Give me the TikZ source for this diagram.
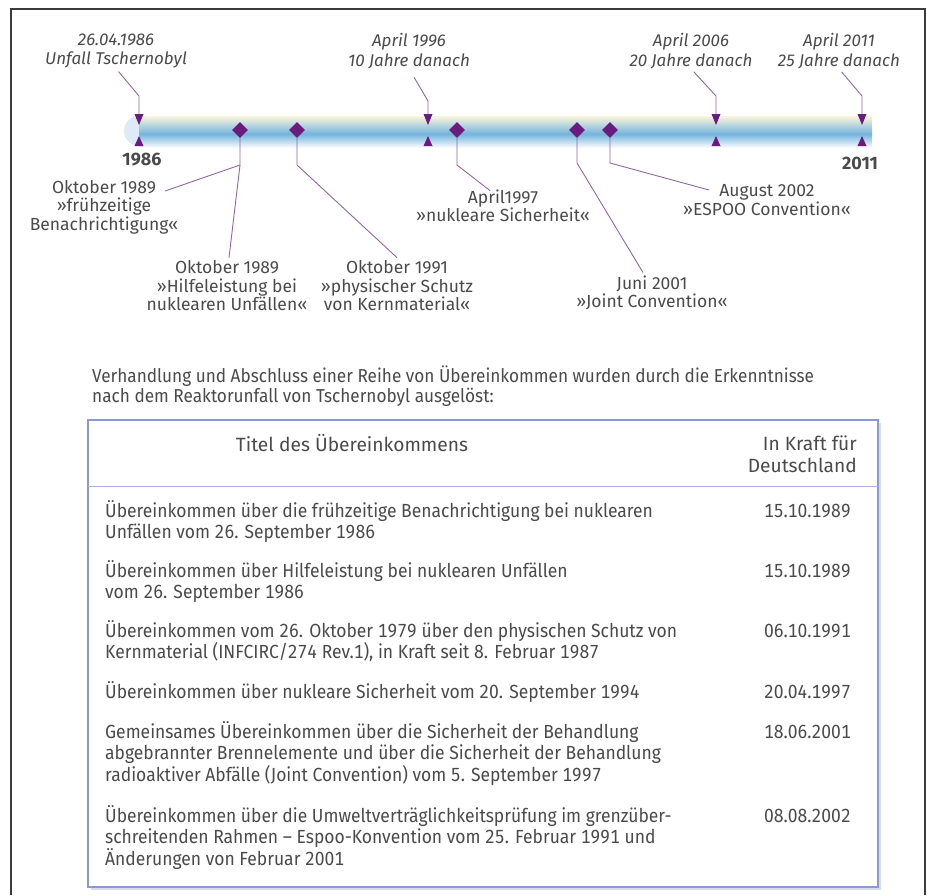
\documentclass[tikz,border=0pt]{standalone}
\usepackage{fontspec}
\setmainfont{Fira Sans}
\newfontfamily\condfont[FakeStretch=0.92,Numbers=Monospaced]{Fira Sans}
\usetikzlibrary{shapes.geometric}
\definecolor{lila}{HTML}{6A1B7E}
\definecolor{lilaline}{HTML}{9266A2}
\definecolor{txtgray}{HTML}{4A4A4A}
\definecolor{barblue}{HTML}{74B4DE}
\definecolor{barcream}{HTML}{FCF6DC}
\definecolor{capblue}{HTML}{DCEBF5}
\definecolor{tabblue}{HTML}{8C98D0}
\definecolor{framegray}{HTML}{3A3A3A}

\begin{document}
\begin{tikzpicture}[x=1pt,y=-1pt,
	dmd/.style={shape=diamond, fill=lila, inner sep=0, minimum size=16pt},
	conn/.style={draw=lilaline, line width=0.9pt},
	toplbl/.style={font=\fontsize{17}{19.5}\selectfont\itshape, text=txtgray, align=center, inner sep=0},
	botlbl/.style={font=\fontsize{17.5}{18.5}\selectfont, text=txtgray, align=center, inner sep=0},
	yearlbl/.style={font=\fontsize{18}{20}\selectfont\bfseries, text=txtgray, inner sep=0},
	headlbl/.style={font=\fontsize{19.2}{21.5}\selectfont, text=txtgray, inner sep=0},
	tabtxt/.style={font=\condfont\fontsize{19}{21.5}\selectfont, text=txtgray, align=left, inner sep=0, anchor=north west},
	datelbl/.style={font=\condfont\fontsize{19}{21.5}\selectfont, text=txtgray, inner sep=0, anchor=base east}
	]
	\useasboundingbox (0,0) rectangle (928,895); %page
	\draw[framegray, line width=1.3pt] (11,895) -- (11,9) -- (925,9) -- (925,895); %outer frame

	%timeline bar-------------------------------------------
	\fill[capblue] (139,131) circle (15pt); %left cap
	\shade[top color=barcream, bottom color=barblue] (139,116) rectangle (872,134); %bar upper half
	\shade[top color=barblue, bottom color=white] (139,134) rectangle (872,148); %bar lower half

	%year marks
	\foreach \x/\n in {139/86,428/96,716/06,862/11}{
		\coordinate (t\n) at (\x,114); %arrow end
		\fill[lila] (\x-4.5,114) -- (\x+4.5,114) -- (\x,125) -- cycle; %down mark
		\fill[lila] (\x-4.5,146) -- (\x+4.5,146) -- (\x,136) -- cycle; %up mark
	}
	\node[yearlbl] (yr86) at (142,160) {1986}; %start year
	\node[yearlbl] (yr11) at (860,163) {2011}; %end year

	%top labels
	\node[toplbl] (l86) at (116,51) {26.04.1986\\Unfall Tschernobyl}; %accident
	\node[toplbl] (l96) at (409,51) {April 1996\\10 Jahre danach}; %10 years
	\node[toplbl] (l06) at (691,51) {April 2006\\20 Jahre danach}; %20 years
	\node[toplbl] (l11) at (839,51) {April 2011\\25 Jahre danach}; %25 years
	\coordinate (k86) at (139,96); %bend
	\coordinate (k96) at (428,101); %bend
	\coordinate (k06) at (716,96); %bend
	\coordinate (k11) at (862,96); %bend
	\draw[conn, shorten <=4pt] (l86.south) -- (k86) -- (t86); %arrow 1986
	\draw[conn, shorten <=10pt] (l96.south) -- (k96) -- (t96); %arrow 1996
	\draw[conn, shorten <=4pt] (l06.south) -- (k06) -- (t06); %arrow 2006
	\draw[conn, shorten <=4pt] (l11.south) -- (k11) -- (t11); %arrow 2011

	%conventions--------------------------------------------
	\node[dmd] (dm89) at (240,130) {}; %Oct 1989
	\node[dmd] (dm91) at (297,130) {}; %Oct 1991
	\node[dmd] (dm97) at (457,130) {}; %Apr 1997
	\node[dmd] (dm01) at (577,130) {}; %Jun 2001
	\node[dmd] (dm02) at (610,130) {}; %Aug 2002

	\node[botlbl] (lb89a) at (104,207) {Oktober 1989\\»frühzeitige\\Benachrichtigung«}; %early notification
	\node[botlbl] (lb89b) at (227,286) {Oktober 1989\\»Hilfeleistung bei\\nuklearen Unfällen«}; %assistance
	\node[botlbl] (lb91) at (397,286) {Oktober 1991\\»physischer Schutz\\von Kernmaterial«}; %physical protection
	\node[botlbl] (lb97) at (503,206) {April1997\\»nukleare Sicherheit«}; %nuclear safety
	\node[botlbl] (lb01) at (652,293) {Juni 2001\\»Joint Convention«}; %joint convention
	\node[botlbl] (lb02) at (767,200) {August 2002\\»ESPOO Convention«}; %espoo

	\coordinate (k89) at (240,165); %bend
	\coordinate (k91) at (297,165); %bend
	\coordinate (k97) at (457,165); %bend
	\coordinate (k01) at (577,163); %bend
	\coordinate (k02) at (610,163); %bend
	\coordinate (e89) at (165,191); %end at label
	\coordinate (e02) at (709,190); %end at label
	\draw[conn] (dm89.south) -- (k89) -- (e89); %to early notification
	\draw[conn] (k89) -- ([xshift=2pt,yshift=3pt]lb89b.north); %to assistance
	\draw[conn] (dm91.south) -- (k91) -- ([yshift=3pt]lb91.north); %to physical protection
	\draw[conn] (dm97.south) -- (k97) -- ([xshift=-13pt,yshift=-1pt]lb97.north); %to nuclear safety
	\draw[conn] (dm01.south) -- (k01) -- ([xshift=-9pt,yshift=3pt]lb01.north); %to joint convention
	\draw[conn] (dm02.south) -- (k02) -- (e02); %to espoo

	%table--------------------------------------------------
	\node[tabtxt, anchor=west, font=\condfont\fontsize{18.7}{19.5}\selectfont] (intro) at (92,386) {Verhandlung und Abschluss einer Reihe von Übereinkommen wurden durch die Erkenntnisse\\nach dem Reaktorunfall von Tschernobyl ausgelöst:}; %intro text

	\draw[tabblue!35, line width=2pt] (91,889) -- (880,889) -- (880,423); %shadow
	\draw[tabblue, line width=1.2pt] (88,420) rectangle (878,887); %table frame
	\draw[tabblue!75, line width=0.8pt] (88,486) -- (878,486); %header rule
	\node[headlbl] (hd1) at (352,443) {Titel des Übereinkommens}; %header left
	\node[headlbl, align=right, anchor=east] (hd2) at (857,454) {In Kraft für\\Deutschland}; %header right

	\node[tabtxt] (r1) at (105,500) {Übereinkommen über die frühzeitige Benachrichtigung bei nuklearen\\Unfällen vom 26. September 1986}; %row 1
	\node[tabtxt] (r2) at (105,560) {Übereinkommen über Hilfeleistung bei nuklearen Unfällen\\vom 26. September 1986}; %row 2
	\node[tabtxt] (r3) at (105,620) {Übereinkommen vom 26. Oktober 1979 über den physischen Schutz von\\Kernmaterial (INFCIRC/274 Rev.1), in Kraft seit 8. Februar 1987}; %row 3
	\node[tabtxt] (r4) at (105,681) {Übereinkommen über nukleare Sicherheit vom 20. September 1994}; %row 4
	\node[tabtxt] (r5) at (105,721) {Gemeinsames Übereinkommen über die Sicherheit der Behandlung\\abgebrannter Brennelemente und über die Sicherheit der Behandlung\\radioaktiver Abfälle (Joint Convention) vom 5. September 1997}; %row 5
	\node[tabtxt] (r6) at (105,805) {Übereinkommen über die Umweltverträglichkeitsprüfung im grenzüber-\\schreitenden Rahmen – Espoo-Konvention vom 25. Februar 1991 und\\Änderungen von Februar 2001}; %row 6

	\node[datelbl] (d1) at (851,517) {15.10.1989}; %date 1
	\node[datelbl] (d2) at (851,577) {15.10.1989}; %date 2
	\node[datelbl] (d3) at (851,637) {06.10.1991}; %date 3
	\node[datelbl] (d4) at (851,698) {20.04.1997}; %date 4
	\node[datelbl] (d5) at (851,738) {18.06.2001}; %date 5
	\node[datelbl] (d6) at (851,822) {08.08.2002}; %date 6
\end{tikzpicture}
\end{document}
